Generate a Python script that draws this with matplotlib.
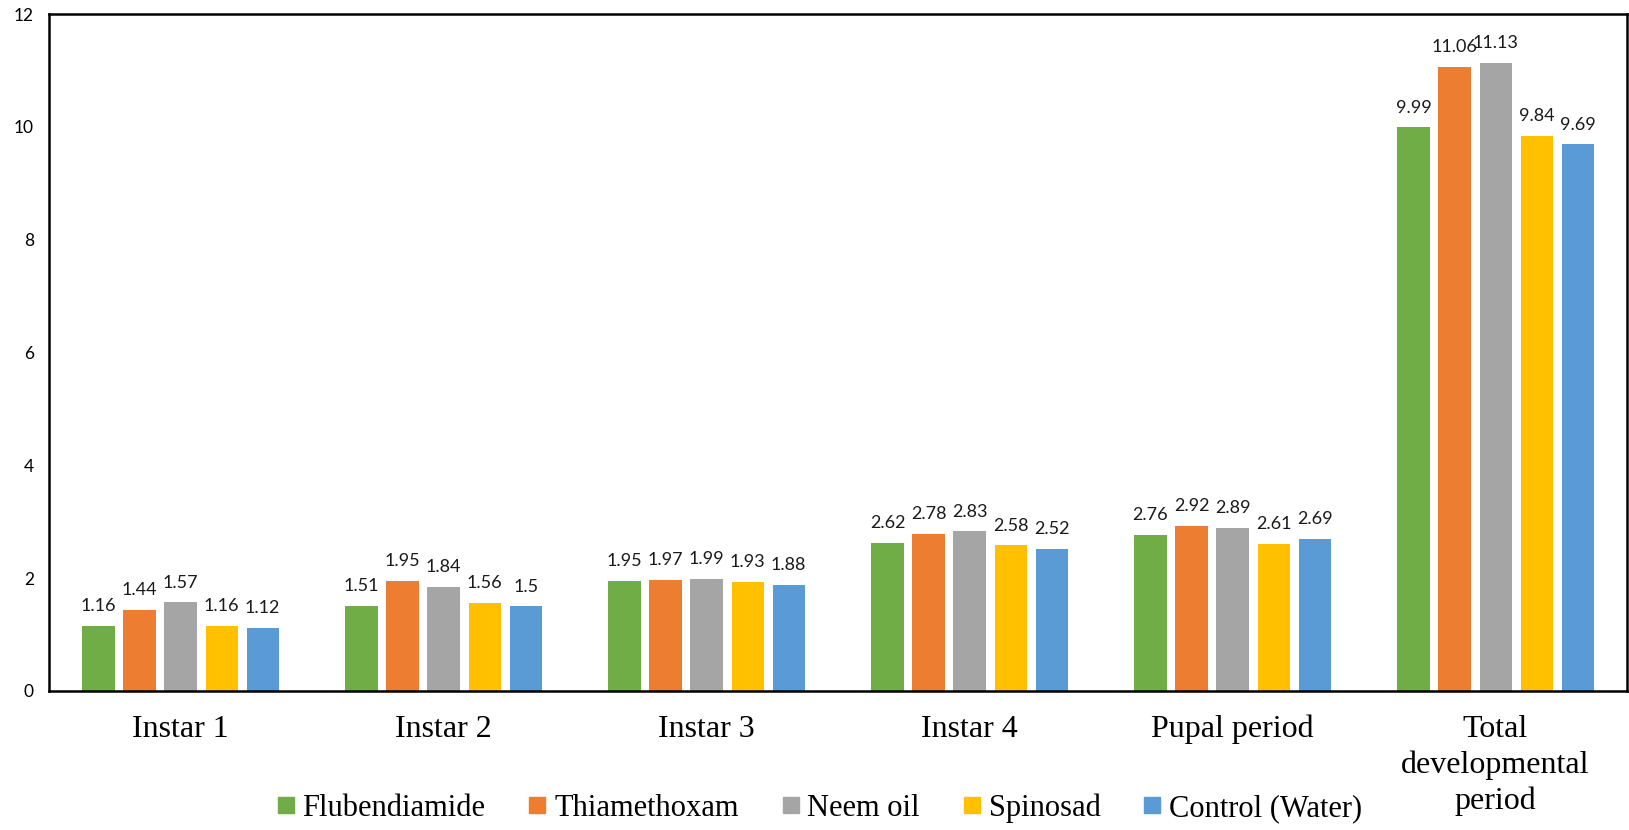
import matplotlib
matplotlib.use("Agg")
import matplotlib.pyplot as plt
import numpy as np
from matplotlib.lines import Line2D

plt.rcParams["font.family"] = ["Liberation Serif", "DejaVu Serif"]

categories = ["Instar 1", "Instar 2", "Instar 3", "Instar 4", "Pupal period",
              "Total\ndevelopmental\nperiod"]
series_names = ["Flubendiamide", "Thiamethoxam", "Neem oil", "Spinosad", "Control (Water)"]
flubendiamide = [1.16, 1.51, 1.95, 2.62, 2.76, 9.99]
thiamethoxam = [1.44, 1.95, 1.97, 2.78, 2.92, 11.06]
neem_oil = [1.57, 1.84, 1.99, 2.83, 2.89, 11.13]
spinosad = [1.16, 1.56, 1.93, 2.58, 2.61, 9.84]
control = [1.12, 1.50, 1.88, 2.52, 2.69, 9.69]
colors = ["#70AD47", "#ED7D31", "#A5A5A5", "#FFC000", "#5B9BD5"]
yticks = [0, 2, 4, 6, 8, 10, 12]

all_series = [flubendiamide, thiamethoxam, neem_oil, spinosad, control]

fig = plt.figure(figsize=(16.29, 8.30), dpi=100)
ax = fig.add_axes([0.0301, 0.1675, 0.9687, 0.8155])

x = np.arange(len(categories))
pitch = 0.156
width = 0.122
for i, (vals, c) in enumerate(zip(all_series, colors)):
    pos = x + (i - 2) * pitch
    bars = ax.bar(pos, vals, width=width, color=c, zorder=2, label=series_names[i])
    for b, v in zip(bars, vals):
        lbl = f"{v:g}"
        ax.annotate(lbl, (b.get_x() + b.get_width() / 2, v),
                    xytext=(0, 8.5), textcoords="offset points",
                    ha="center", va="bottom", fontsize=13,
                    family="Lato", color="#1a1a1a")

ax.set_xlim(-0.5, len(categories) - 0.5)
ax.set_ylim(0, 12)
ax.set_yticks(yticks)
ax.set_yticklabels([str(t) for t in yticks], family="Lato", fontsize=12.5)
ax.tick_params(axis="y", length=0, pad=11)
ax.set_xticks(x)
ax.set_xticklabels(categories, family="Liberation Serif", fontsize=23,
                   linespacing=1.3, va="top")
ax.tick_params(axis="x", length=0, pad=17)
for s in ax.spines.values():
    s.set_linewidth(1.8)
    s.set_color("black")

handles = [Line2D([], [], marker="s", linestyle="none", markersize=11,
                  markerfacecolor=c, markeredgecolor=c) for c in colors]
leg = fig.legend(handles, series_names, loc="center", bbox_to_anchor=(0.503, 1 - 808 / 830),
                 ncol=5, frameon=False, fontsize=22,
                 handlelength=0.6, handletextpad=0.25, columnspacing=1.4, borderpad=0)
for t in leg.get_texts():
    t.set_family("Liberation Serif")

fig.savefig("out.png", dpi=100)
